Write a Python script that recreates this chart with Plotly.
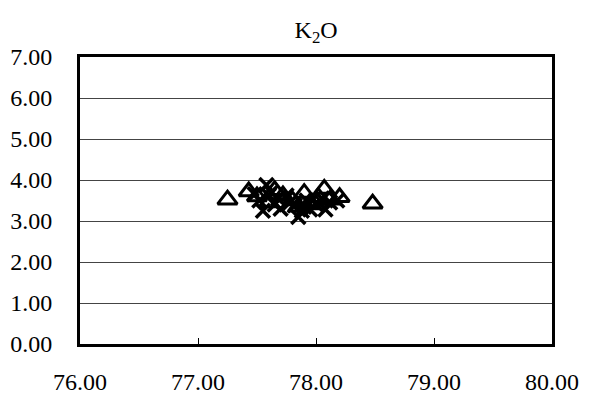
import plotly.graph_objects as go

# Series A: open triangles
tri_x = [77.25, 78.48, 77.43, 77.50, 77.65, 77.72, 77.80, 77.90, 77.95, 78.02, 78.07, 78.12, 78.20, 77.60, 77.85, 78.00]
tri_y = [3.52, 3.42, 3.72, 3.60, 3.75, 3.62, 3.50, 3.68, 3.45, 3.58, 3.78, 3.52, 3.58, 3.45, 3.35, 3.40]

# Series B: crosses
crs_x = [77.52, 77.55, 77.58, 77.62, 77.65, 77.68, 77.70, 77.75, 77.78, 77.82, 77.85, 77.88, 77.90, 77.92, 77.95, 78.00, 78.05, 78.08, 78.12, 78.18, 77.60, 77.48]
crs_y = [3.50, 3.25, 3.88, 3.70, 3.40, 3.55, 3.30, 3.62, 3.45, 3.38, 3.10, 3.25, 3.35, 3.50, 3.28, 3.40, 3.55, 3.28, 3.45, 3.50, 3.62, 3.65]

x_ticks = [76, 77, 78, 79, 80]
y_ticks = [0, 1, 2, 3, 4, 5, 6, 7]

fig = go.Figure()
fig.add_trace(go.Scatter(
    x=crs_x, y=crs_y, mode="markers",
    marker=dict(symbol="x-thin-open", size=14, color="black", line=dict(color="black", width=3.5)),
    showlegend=False))
fig.add_trace(go.Scatter(
    x=tri_x, y=tri_y, mode="markers",
    marker=dict(symbol="triangle-up-open", size=17, color="black", line=dict(color="black", width=3)),
    showlegend=False))

serif = "Liberation Serif, Times New Roman, serif"
font = dict(family=serif, size=24, color="black")
fig.update_layout(
    width=592, height=395,
    margin=dict(l=80, r=40, t=57, b=51, autoexpand=False),
    paper_bgcolor="white", plot_bgcolor="white",
    font=font,
    title=dict(text="K<sub>2</sub>O", x=0.534, xanchor="center", y=0.924, yanchor="middle",
               font=dict(family=serif, size=24, color="black")),
    xaxis=dict(range=[76, 80], tickvals=x_ticks, ticktext=[f"{v:.2f}" for v in x_ticks],
               showgrid=False, zeroline=False, showline=True, linecolor="black", linewidth=3,
               mirror=True, ticks="inside", ticklen=6, tickcolor="black", tickwidth=1,
               ticklabelstandoff=14, automargin=False),
    yaxis=dict(range=[0, 7], tickvals=y_ticks, ticktext=[f"{v:.2f}" for v in y_ticks],
               showgrid=True, gridcolor="#444444", gridwidth=1, zeroline=False,
               showline=True, linecolor="black", linewidth=3, mirror=True, ticks="",
               ticklabelstandoff=20, automargin=False),
)
fig.write_html("out.html", config={"displayModeBar": False},
               post_script="document.body.style.margin='0';document.body.style.overflow='hidden';")
